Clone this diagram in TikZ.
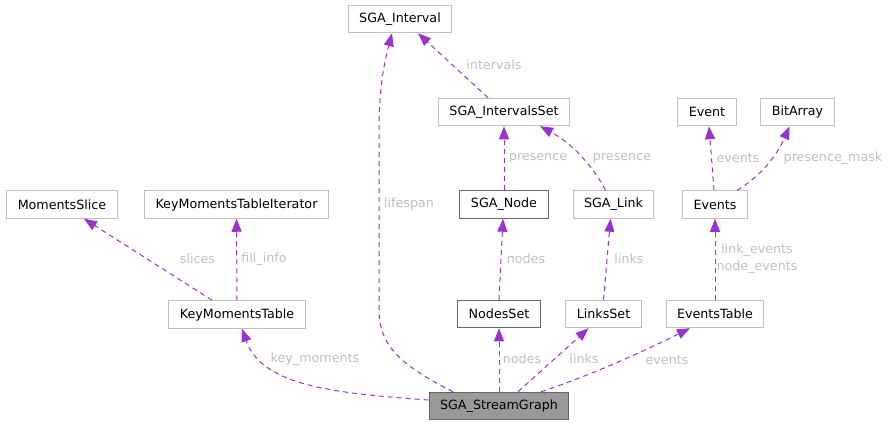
\documentclass[tikz,border=0pt]{standalone}
\usepackage{fontspec}
\setmainfont{DejaVu Sans}
\usetikzlibrary{arrows.meta}
\definecolor{relcol}{HTML}{9A32CD}
\definecolor{lblcol}{HTML}{BFBFBF}
\definecolor{boxlight}{HTML}{BFBFBF}
\definecolor{boxdark}{HTML}{666666}
\definecolor{mainfill}{HTML}{999999}

\begin{document}
\begin{tikzpicture}[x=1pt, y=-1pt, >={Triangle[length=13pt,width=10pt]},
  font=\fontsize{12.7}{17}\selectfont,
  cls/.style={draw=boxlight, line width=1pt, minimum height=27.5pt, inner xsep=11pt, inner ysep=0pt},
  clsdark/.style={cls, draw=boxdark},
  clsmain/.style={cls, draw=boxdark, fill=mainfill},
  rel/.style={->, draw=relcol, line width=1pt, dash pattern=on 5pt off 4pt},
  lbl/.style={text=lblcol, inner sep=1pt}]
  \useasboundingbox (0,0) rectangle (890,426);
  % classes
  \node[clsmain] (sg) at (499,406) {SGA\_StreamGraph};
  \node[cls] (ival) at (400,19) {SGA\_Interval};
  \node[cls] (ivset) at (504,112) {SGA\_IntervalsSet};
  \node[cls] (ev) at (707,112) {Event};
  \node[cls] (bits) at (797.5,112) {BitArray};
  \node[cls] (mslice) at (62,204.5) {MomentsSlice};
  \node[cls] (kmtit) at (236.5,204.5) {KeyMomentsTableIterator};
  \node[clsdark] (snode) at (504,204.5) {SGA\_Node};
  \node[cls] (slink) at (613.5,204.5) {SGA\_Link};
  \node[cls] (evs) at (715,204.5) {Events};
  \node[cls] (kmt) at (237,314.5) {KeyMomentsTable};
  \node[clsdark] (nset) at (499,314) {NodesSet};
  \node[cls] (lset) at (603.5,314) {LinksSet};
  \node[cls] (evtab) at (715,314) {EventsTable};
  % upper relations
  \draw[rel] ([xshift=-16pt]ivset.north) -- ([xshift=18pt]ival.south);
  \draw[rel] (snode.north) -- (ivset.south);
  \draw[rel] ([xshift=-8pt]slink.north) .. controls (595,170) and (575,145) .. ([xshift=36pt]ivset.south);
  \draw[rel] ([xshift=-1pt]evs.north) -- ([xshift=2pt]ev.south);
  \draw[rel] ([xshift=22pt]evs.north) .. controls (755,180) and (775,160) .. ([xshift=-8pt]bits.south);
  % middle relations
  \draw[rel] ([xshift=-25pt]kmt.north) -- ([xshift=22pt]mslice.south);
  \draw[rel] (kmt.north) -- (kmtit.south);
  \draw[rel] (nset.north) -- ([xshift=-1pt]snode.south);
  \draw[rel] (lset.north) -- ([xshift=-3pt]slink.south);
  \draw[rel] (evtab.north) -- (evs.south);
  % from the stream graph
  \draw[rel] (sg.north) -- (nset.south);
  \draw[rel] ([xshift=19pt]sg.north) -- ([xshift=-15pt]lset.south);
  \draw[rel] ([xshift=42pt]sg.north) .. controls (600,372) and (650,348) .. ([xshift=-25pt]evtab.south);
  \draw[rel] ([yshift=6pt]sg.west) .. controls (330,393) and (262,385) .. ([xshift=5pt]kmt.south);
  \draw[rel] ([xshift=-46pt]sg.north) .. controls (400,365) and (379,345) .. (379,310)
    -- (379,130) .. controls (379,85) and (385,60) .. ([xshift=-8pt]ival.south);
  % labels
  \node[lbl] (l-lifespan) at (409,204) {lifespan};
  \node[lbl] (l-intervals) at (494,65) {intervals};
  \node[lbl] (l-presnode) at (538,158) {presence};
  \node[lbl] (l-preslink) at (622,158) {presence};
  \node[lbl] (l-events) at (738,158) {events};
  \node[lbl] (l-mask) at (833,158) {presence\_mask};
  \node[lbl] (l-slices) at (197.5,259) {slices};
  \node[lbl] (l-fill) at (264,259) {fill\_info};
  \node[lbl] (l-nodes) at (526,259) {nodes};
  \node[lbl] (l-links) at (629,259) {links};
  \node[lbl, align=center] (l-evtab) at (757,259) {link\_events\\node\_events};
  \node[lbl] (l-keymom) at (315,359) {key\_moments};
  \node[lbl] (l-sgnodes) at (522,359) {nodes};
  \node[lbl] (l-sglinks) at (584,359) {links};
  \node[lbl] (l-sgevents) at (667,360) {events};
\end{tikzpicture}
\end{document}
